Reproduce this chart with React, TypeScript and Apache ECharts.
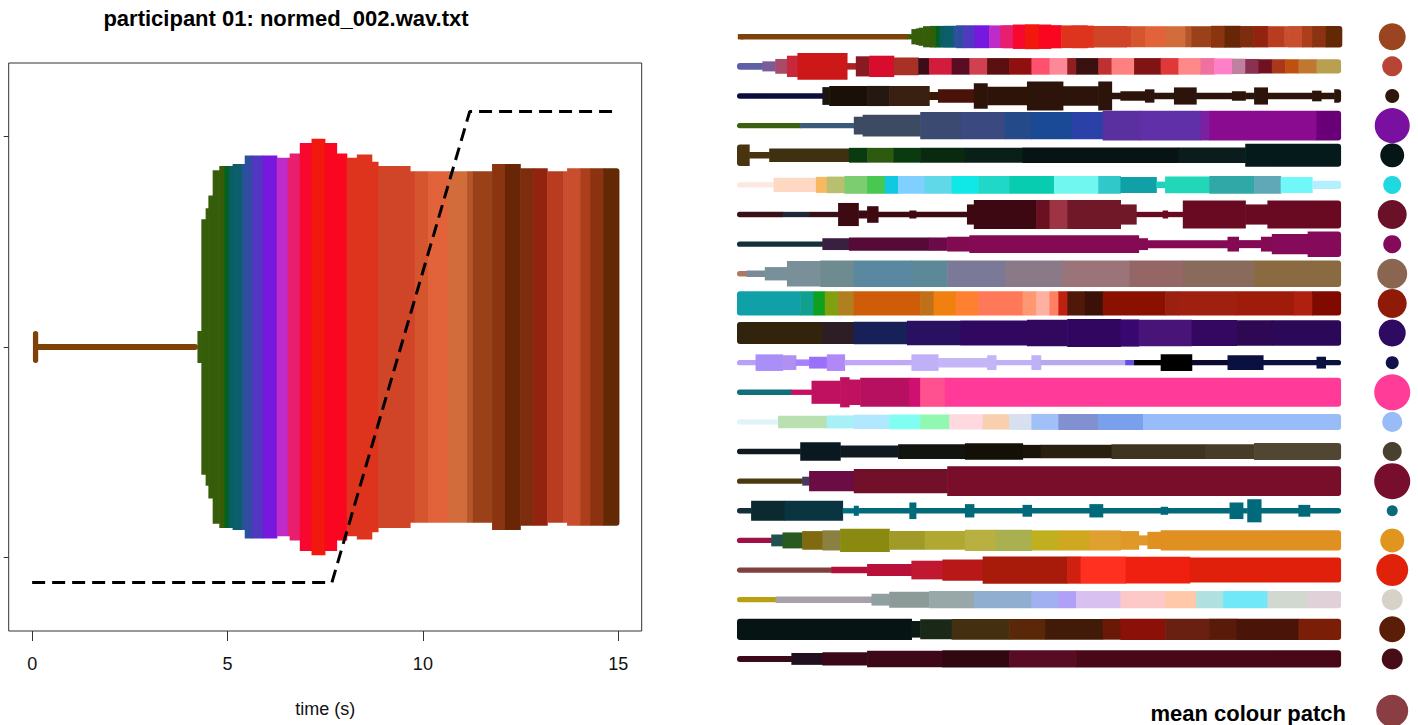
import React, { useEffect, useRef } from "react";
import * as echarts from "echarts";

const TITLE = "participant 01: normed_002.wav.txt";
const X_NAME = "time (s)";
const MEAN_LABEL = "mean colour patch";
const xTickValues = [0, 5, 10, 15];
const yTickValues = [-1, 0, 1];

// slider position (dashed line)
const sliderTimes = [0, 7.67, 11.2, 15];
const sliderValues = [-1.12, -1.12, 1.12, 1.12];

// main trajectory: [start (s), end (s), half height, colour]
const mainSegments: [number, number, number, string][] = [
  [0.05, 4.23, 0.014, "#7E4209"],
  [0.02, 0.14, 0.076, "#7E4209"],
  [4.23, 4.33, 0.076, "#365E0A"],
  [4.33, 4.44, 0.607, "#365E0A"],
  [4.44, 4.51, 0.66, "#365E0A"],
  [4.51, 4.62, 0.72, "#365E0A"],
  [4.62, 4.79, 0.84, "#365E0A"],
  [4.79, 4.92, 0.86, "#365C08"],
  [4.92, 5.03, 0.86, "#00621E"],
  [5.03, 5.13, 0.86, "#0B5E60"],
  [5.13, 5.38, 0.87, "#0C5E6C"],
  [5.38, 5.44, 0.87, "#2E4E9E"],
  [5.44, 5.62, 0.91, "#2E4EA0"],
  [5.62, 5.9, 0.91, "#5038C0"],
  [5.9, 6.26, 0.91, "#7718DE"],
  [6.26, 6.54, 0.9, "#BE2BC8"],
  [6.54, 6.59, 0.9, "#E81E6E"],
  [6.59, 6.85, 0.92, "#E81E6E"],
  [6.85, 7.15, 0.97, "#F8082E"],
  [7.15, 7.49, 0.99, "#F2180E"],
  [7.49, 7.79, 0.97, "#FA0620"],
  [7.79, 8.05, 0.92, "#FA0620"],
  [8.05, 8.31, 0.9, "#DE341E"],
  [8.31, 8.69, 0.915, "#DE341E"],
  [8.69, 8.85, 0.88, "#DE341E"],
  [8.85, 9.67, 0.86, "#D04428"],
  [9.67, 9.79, 0.835, "#D04428"],
  [9.79, 10.13, 0.835, "#D5552F"],
  [10.13, 10.64, 0.835, "#E2633A"],
  [10.64, 11.13, 0.835, "#D26C3A"],
  [11.13, 11.28, 0.835, "#B4552A"],
  [11.28, 11.77, 0.835, "#9A4119"],
  [11.77, 12.1, 0.87, "#8B3510"],
  [12.1, 12.49, 0.87, "#682606"],
  [12.49, 12.82, 0.85, "#7E2C0E"],
  [12.82, 13.18, 0.85, "#91230F"],
  [13.18, 13.59, 0.835, "#B83C1F"],
  [13.59, 13.69, 0.835, "#C84E2D"],
  [13.69, 14.03, 0.85, "#C84E2D"],
  [14.03, 14.28, 0.85, "#AD3E1C"],
  [14.28, 14.62, 0.85, "#8B3210"],
  [14.62, 15.03, 0.85, "#622904"],
];

// overview rows 2..22: [end time (s), half thickness (row units), colour]
type Seg = [number, number, string];

const row02: Seg[] = [
  [0.63, 0.11, "#5F5FA8"], [0.95, 0.17, "#7C5C98"], [1.24, 0.25, "#A84A6A"], [1.5, 0.36, "#C8283A"],
  [2.73, 0.45, "#CC1818"], [2.95, 0.11, "#B02020"], [3.28, 0.34, "#8A1A22"], [3.89, 0.36, "#D80C2C"],
  [4.5, 0.3, "#A83024"], [4.77, 0.28, "#3E0C18"], [5.33, 0.28, "#D21C3C"], [5.77, 0.28, "#5A0C22"],
  [6.21, 0.28, "#D04050"], [6.76, 0.28, "#5A1010"], [7.31, 0.28, "#901010"], [7.76, 0.28, "#FF5070"],
  [8.2, 0.28, "#FF8898"], [8.42, 0.28, "#902020"], [8.97, 0.28, "#3A1010"], [9.3, 0.28, "#C03030"],
  [9.86, 0.28, "#FF8080"], [10.52, 0.28, "#801414"], [10.96, 0.28, "#E03838"], [11.51, 0.28, "#FF8888"],
  [11.85, 0.28, "#F070A0"], [12.29, 0.27, "#FF80C8"], [12.62, 0.26, "#C080A0"], [12.95, 0.25, "#8A3050"],
  [13.28, 0.24, "#701020"], [13.61, 0.24, "#A83818"], [13.94, 0.24, "#C05010"], [14.39, 0.24, "#C07830"],
  [15.0, 0.24, "#B8A050"],
];
const row03: Seg[] = [
  [2.12, 0.09, "#0C0C40"], [2.29, 0.3, "#1C1410"], [3.23, 0.34, "#1A1008"], [3.78, 0.34, "#241810"],
  [4.77, 0.34, "#3A2010"], [4.99, 0.135, "#3A1808"], [5.88, 0.225, "#4A1208"], [6.21, 0.43, "#2E1408"],
  [7.2, 0.315, "#2E1408"], [8.09, 0.49, "#2C140A"], [8.97, 0.33, "#2C140A"], [9.3, 0.49, "#2C140A"],
  [9.52, 0.11, "#2C140A"], [10.13, 0.16, "#2C140A"], [10.35, 0.225, "#2C140A"], [10.85, 0.11, "#2C140A"],
  [11.4, 0.29, "#2C140A"], [12.29, 0.11, "#2C140A"], [12.62, 0.16, "#2C140A"], [12.84, 0.11, "#2C140A"],
  [13.17, 0.29, "#2C140A"], [14.28, 0.11, "#2C140A"], [14.5, 0.18, "#2C140A"], [14.83, 0.11, "#2C140A"],
  [15.0, 0.225, "#2C140A"],
];
const row04: Seg[] = [
  [1.57, 0.09, "#3A6010"], [2.9, 0.09, "#3A5A7A"], [3.12, 0.3, "#3C4A62"], [4.55, 0.37, "#3C4A62"],
  [5.55, 0.46, "#3A4A70"], [6.65, 0.46, "#3A4A80"], [7.31, 0.46, "#254A8A"], [8.31, 0.46, "#1A4A95"],
  [9.08, 0.46, "#2A42A8"], [10.0, 0.5, "#5A30A0"], [11.51, 0.5, "#6030A8"], [11.73, 0.5, "#7A20A0"],
  [14.39, 0.5, "#8A0A90"], [15.0, 0.5, "#6A0078"],
];
const row05: Seg[] = [
  [0.3, 0.36, "#4A3410"], [0.8, 0.11, "#4A3410"], [2.78, 0.225, "#3E3010"], [3.23, 0.25, "#0A3A10"],
  [3.89, 0.25, "#2E5A10"], [4.55, 0.25, "#0A3A10"], [5.66, 0.25, "#0A2A10"], [7.09, 0.25, "#082018"],
  [10.96, 0.26, "#081414"], [12.62, 0.26, "#0A1C1C"], [15.0, 0.39, "#051A1A"],
];
const row06: Seg[] = [
  [0.91, 0.09, "#FCE8E0"], [1.96, 0.24, "#FFD8C4"], [2.23, 0.27, "#F8B860"], [2.67, 0.28, "#B8C070"],
  [3.23, 0.3, "#7CCC70"], [3.67, 0.3, "#48C850"], [4.0, 0.3, "#10C8E0"], [4.66, 0.3, "#80D0FF"],
  [5.33, 0.3, "#60D8E8"], [5.99, 0.3, "#10E8E8"], [6.76, 0.3, "#20D8C8"], [7.87, 0.3, "#08CCB0"],
  [8.97, 0.3, "#70F8F0"], [9.52, 0.3, "#30C8C8"], [10.41, 0.27, "#10A0A8"], [10.63, 0.11, "#20D0C0"],
  [11.73, 0.28, "#20D8B8"], [12.84, 0.3, "#30A8A8"], [13.5, 0.3, "#60A8B8"], [14.28, 0.27, "#70F8F8"],
  [15.0, 0.14, "#B0F0FF"],
];
const row07: Seg[] = [
  [1.13, 0.09, "#3A1018"], [1.79, 0.09, "#1E2838"], [2.51, 0.09, "#3A1018"], [3.01, 0.39, "#3E0A12"],
  [3.23, 0.135, "#3E0A12"], [3.5, 0.28, "#3E0A12"], [4.28, 0.09, "#3E0A12"], [4.44, 0.135, "#3E0A12"],
  [5.71, 0.09, "#3E0A12"], [5.88, 0.34, "#3E0812"], [7.43, 0.49, "#3E0812"], [7.76, 0.49, "#6A1020"],
  [8.2, 0.49, "#9C3444"], [9.52, 0.49, "#701828"], [9.91, 0.34, "#701828"], [10.57, 0.09, "#6A0A22"],
  [10.69, 0.135, "#6A0A22"], [11.07, 0.09, "#6A0A22"], [12.62, 0.47, "#6A0A22"], [13.17, 0.34, "#6A0A22"],
  [15.0, 0.47, "#6A0A22"],
];
const row08: Seg[] = [
  [2.12, 0.09, "#143038"], [2.78, 0.2, "#3A2040"], [4.77, 0.225, "#560A38"], [5.22, 0.225, "#6A0A48"],
  [5.77, 0.25, "#820A50"], [9.97, 0.3, "#840A54"], [10.19, 0.2, "#840A54"], [12.18, 0.135, "#840A54"],
  [12.45, 0.25, "#840A54"], [13.01, 0.135, "#840A54"], [13.28, 0.25, "#840A54"], [14.17, 0.34, "#860A5A"],
  [15.0, 0.43, "#860A5A"],
];
const row09: Seg[] = [
  [0.24, 0.09, "#B07860"], [0.69, 0.11, "#7A8A98"], [1.24, 0.225, "#78909A"], [2.07, 0.43, "#7A9098"],
  [2.9, 0.45, "#6E8C90"], [4.33, 0.45, "#5A88A0"], [5.22, 0.45, "#5C8898"], [6.65, 0.45, "#7A7A98"],
  [8.09, 0.45, "#8A7A88"], [9.75, 0.45, "#9A7478"], [11.07, 0.45, "#946666"], [12.84, 0.45, "#8A6A5A"],
  [15.0, 0.45, "#8A6A40"],
];
const row10: Seg[] = [
  [1.57, 0.41, "#10A0A8"], [1.9, 0.41, "#10A090"], [2.18, 0.41, "#10A020"], [2.51, 0.41, "#80A010"],
  [2.9, 0.41, "#B08020"], [4.55, 0.41, "#CE5C08"], [4.88, 0.41, "#C07018"], [5.44, 0.41, "#F08010"],
  [5.99, 0.41, "#FF8030"], [7.09, 0.41, "#FF7858"], [7.43, 0.41, "#FF9870"], [7.76, 0.41, "#FFB0A0"],
  [7.98, 0.41, "#FF8060"], [8.2, 0.41, "#C02010"], [8.64, 0.41, "#501808"], [9.08, 0.41, "#3A1008"],
  [10.63, 0.41, "#8A1000"], [10.96, 0.41, "#9A2010"], [12.4, 0.41, "#A02010"], [13.83, 0.41, "#A01C0A"],
  [14.28, 0.41, "#B02010"], [15.0, 0.41, "#800A00"],
];
const row11: Seg[] = [
  [2.12, 0.37, "#32240C"], [2.9, 0.37, "#2C1E24"], [4.22, 0.38, "#182058"], [5.55, 0.41, "#2A1060"],
  [7.2, 0.42, "#300860"], [8.2, 0.45, "#32085E"], [9.52, 0.47, "#300660"], [9.97, 0.46, "#380870"],
  [11.29, 0.45, "#481478"], [12.4, 0.44, "#340860"], [13.28, 0.43, "#2E0852"], [15.0, 0.43, "#2C0858"],
];
const row12: Seg[] = [
  [0.46, 0.09, "#B8A0F8"], [1.13, 0.28, "#A890F8"], [1.46, 0.25, "#B090F0"], [1.79, 0.11, "#A880FF"],
  [2.23, 0.2, "#9A70F8"], [2.67, 0.28, "#B088F8"], [4.33, 0.09, "#C0A8F8"], [4.99, 0.28, "#C0B0F8"],
  [6.21, 0.16, "#C4B4F8"], [6.43, 0.25, "#C4B4F8"], [7.31, 0.09, "#C0B0F8"], [7.54, 0.25, "#C0B0F8"],
  [9.64, 0.09, "#B8A8F0"], [9.86, 0.09, "#6050E0"], [10.52, 0.09, "#000000"], [11.29, 0.28, "#000000"],
  [12.18, 0.09, "#0A0A30"], [13.06, 0.25, "#0A1040"], [14.39, 0.09, "#0A1040"], [14.61, 0.2, "#0A1040"],
  [15.0, 0.09, "#0A1040"],
];
const row13: Seg[] = [
  [1.35, 0.09, "#10707A"], [1.85, 0.09, "#C81060"], [2.56, 0.39, "#C01060"], [2.78, 0.51, "#C01060"],
  [3.06, 0.43, "#C01060"], [4.28, 0.49, "#B81060"], [4.55, 0.49, "#D01070"], [5.16, 0.49, "#FF5090"],
  [15.0, 0.49, "#FF3A98"],
];
const row14: Seg[] = [
  [1.02, 0.09, "#E0F4F8"], [2.23, 0.21, "#B8E0B0"], [2.9, 0.22, "#A8F0F8"], [3.78, 0.24, "#B0E8FF"],
  [4.55, 0.25, "#80FFF0"], [5.27, 0.25, "#90F8B0"], [6.1, 0.26, "#FFD8E0"], [6.76, 0.26, "#F8D0B0"],
  [7.31, 0.27, "#D8E0F0"], [7.98, 0.27, "#A0C0F8"], [8.97, 0.27, "#8090D0"], [10.08, 0.27, "#7AA0EC"],
  [15.0, 0.27, "#98BCF8"],
];
const row15: Seg[] = [
  [1.57, 0.09, "#101820"], [2.56, 0.315, "#0A1820"], [4.0, 0.2, "#101820"], [5.66, 0.25, "#121410"],
  [7.09, 0.28, "#141008"], [7.54, 0.225, "#1A1408"], [9.3, 0.225, "#2A2010"], [11.62, 0.25, "#3E3420"],
  [12.84, 0.25, "#463C28"], [15.0, 0.29, "#504632"],
];
const row16: Seg[] = [
  [1.62, 0.09, "#4A3A10"], [1.79, 0.15, "#4A3860"], [2.9, 0.34, "#6C0C44"], [5.22, 0.41, "#72102A"],
  [15.0, 0.5, "#780E2A"],
];
const row17: Seg[] = [
  [0.35, 0.09, "#10303A"], [1.18, 0.34, "#0A2A30"], [2.62, 0.34, "#0A3440"], [2.9, 0.09, "#007080"],
  [3.01, 0.17, "#006A7A"], [4.28, 0.09, "#006A7A"], [4.44, 0.28, "#006A7A"], [5.66, 0.09, "#006A7A"],
  [5.88, 0.225, "#006A7A"], [7.09, 0.09, "#006A7A"], [7.31, 0.2, "#006A7A"], [8.75, 0.09, "#006A7A"],
  [9.08, 0.225, "#006A7A"], [10.52, 0.09, "#006A7A"], [10.69, 0.135, "#006A7A"], [12.23, 0.09, "#006A7A"],
  [12.56, 0.28, "#006A7A"], [12.67, 0.09, "#006A7A"], [13.01, 0.39, "#006A7A"], [13.94, 0.09, "#006A7A"],
  [14.22, 0.2, "#006A7A"], [15.0, 0.09, "#006A7A"],
];
const row18: Seg[] = [
  [0.85, 0.09, "#A01048"], [1.13, 0.2, "#205050"], [1.62, 0.27, "#2A5A20"], [2.12, 0.315, "#806A10"],
  [2.56, 0.34, "#8A8040"], [3.78, 0.39, "#8A8A10"], [4.66, 0.315, "#A09A28"], [5.66, 0.315, "#B0A830"],
  [6.43, 0.36, "#B8B040"], [7.31, 0.36, "#A8B050"], [7.98, 0.34, "#C0B020"], [8.75, 0.34, "#D0A820"],
  [9.52, 0.34, "#E0A030"], [9.97, 0.315, "#E09828"], [10.19, 0.17, "#E09828"], [10.52, 0.29, "#E09020"],
  [15.0, 0.34, "#E09020"],
];
const row19: Seg[] = [
  [2.34, 0.09, "#804040"], [3.23, 0.11, "#B0103A"], [4.33, 0.2, "#B81038"], [5.1, 0.315, "#C01830"],
  [6.1, 0.36, "#B81818"], [8.2, 0.46, "#A81A0A"], [8.53, 0.46, "#D02010"], [9.64, 0.46, "#FF3020"],
  [11.24, 0.45, "#F02010"], [15.0, 0.42, "#E0200A"],
];
const row20: Seg[] = [
  [0.96, 0.09, "#B8A010"], [3.34, 0.11, "#A8A0A8"], [3.78, 0.2, "#90A0A0"], [4.77, 0.27, "#8C9A98"],
  [5.88, 0.29, "#98A8A8"], [7.31, 0.29, "#90AED0"], [7.98, 0.29, "#A0B0F0"], [8.42, 0.29, "#B0A0F8"],
  [9.52, 0.29, "#D8C0F0"], [10.63, 0.29, "#FCC8C8"], [11.4, 0.29, "#FFC8A8"], [12.07, 0.29, "#B0E0E0"],
  [13.17, 0.29, "#70E8F8"], [14.17, 0.29, "#D0D8D0"], [15.0, 0.29, "#E0D0D8"],
];
const row21: Seg[] = [
  [4.33, 0.36, "#061414"], [4.55, 0.28, "#0A1A14"], [5.33, 0.34, "#1A2818"], [6.76, 0.35, "#443010"],
  [7.65, 0.35, "#5A2808"], [9.08, 0.35, "#421A08"], [9.52, 0.35, "#6A1808"], [10.63, 0.36, "#8A1008"],
  [11.73, 0.36, "#6A2010"], [12.4, 0.36, "#5A1A0A"], [13.94, 0.36, "#4A1408"], [15.0, 0.36, "#7A1E08"],
];
const row22: Seg[] = [
  [1.35, 0.1, "#3A0A18"], [2.12, 0.2, "#201020"], [3.23, 0.225, "#3A0818"], [5.1, 0.28, "#3E0818"],
  [6.76, 0.29, "#300810"], [8.42, 0.29, "#580C24"], [15.0, 0.29, "#480818"],
];

const overviewRows: Seg[][] = [
  row02, row03, row04, row05, row06, row07, row08, row09, row10, row11, row12,
  row13, row14, row15, row16, row17, row18, row19, row20, row21, row22,
];

// mean colour patches, one per row
const patchColors = [
  "#9A4420", "#B84436", "#2E180C", "#7A10A0", "#061616", "#20D8E0", "#6A1028", "#840A5A",
  "#8A6650", "#901A08", "#2E0A60", "#10104A", "#FF3C98", "#98BCF8", "#4A4030", "#780E2E",
  "#0A6A7A", "#E0961E", "#E0220A", "#D6D2C8", "#5A1E08", "#480C18",
];
const patchSizes = [27, 20, 14, 35, 24, 18, 29, 18, 30, 29, 27, 13, 36, 20, 19, 36, 11, 24, 32, 21, 26, 21];
const meanPatchColor = "#8A3E44";
const meanPatchSize = 32;

// layout constants
const ROW1_SCALE = 0.425;
const MIN_HALF = 0.09;
const PATCH_X = 16.27;
const MEAN_ROW = 22.75;
const FONT = "'Liberation Sans', Arial, Helvetica, sans-serif";

interface Piece {
  t0: number; t1: number; row: number; half: number; color: string; rl: boolean; rr: boolean;
}

const pieces: Piece[] = [];
mainSegments.forEach((s, i) => {
  pieces.push({
    t0: s[0], t1: s[1], row: 0, half: Math.max(s[2] * ROW1_SCALE, MIN_HALF), color: s[3],
    rl: i === 0, rr: i === mainSegments.length - 1,
  });
});
overviewRows.forEach((segs, k) => {
  let start = 0;
  segs.forEach((s, i) => {
    pieces.push({ t0: start, t1: s[0], row: k + 1, half: s[1], color: s[2], rl: i === 0, rr: i === segs.length - 1 });
    start = s[0];
  });
});

export default function App() {
  const ref = useRef<HTMLDivElement>(null);
  useEffect(() => {
    if (!ref.current) return;
    const chart = echarts.init(ref.current, undefined, { renderer: "svg" });
    const option: any = {
      animation: false,
      backgroundColor: "#ffffff",
      textStyle: { fontFamily: FONT },
      grid: [
        { left: 8.7, top: 63, width: 633, height: 568, show: true, borderColor: "#333", borderWidth: 1, backgroundColor: "transparent" },
        { left: 737, top: 0, width: 681, height: 725, show: false },
      ],
      xAxis: [
        {
          type: "value", gridIndex: 0, min: -0.6, max: 15.6, position: "bottom",
          axisLine: { show: false, onZero: false }, splitLine: { show: false },
          axisTick: { show: true, customValues: xTickValues, length: 10, lineStyle: { color: "#333", width: 1 } },
          axisLabel: { show: true, customValues: xTickValues, margin: 24, fontSize: 18, color: "#111", fontFamily: FONT },
          name: X_NAME, nameLocation: "middle", nameGap: 69,
          nameTextStyle: { fontSize: 18, color: "#111", fontFamily: FONT },
        },
        { type: "value", gridIndex: 1, min: 0, max: 16.91, show: false },
      ],
      yAxis: [
        {
          type: "value", gridIndex: 0, min: -1.35, max: 1.35, position: "left",
          axisLine: { show: false, onZero: false }, splitLine: { show: false },
          axisTick: { show: true, customValues: yTickValues, length: 5, lineStyle: { color: "#333", width: 1 } },
          axisLabel: { show: false },
        },
        { type: "value", gridIndex: 1, min: -1.24, max: 23.23, inverse: true, show: false },
      ],
      series: [
        {
          type: "custom", xAxisIndex: 0, yAxisIndex: 0, silent: true, z: 2,
          data: mainSegments.map((s) => [s[0], 0]),
          renderItem: (params: any, api: any) => {
            const s = mainSegments[params.dataIndex];
            const a = api.coord([s[0], -s[2]]);
            const b = api.coord([s[1], s[2]]);
            const x = Math.min(a[0], b[0]);
            const y = Math.min(a[1], b[1]);
            const w = Math.abs(b[0] - a[0]);
            const h = Math.abs(b[1] - a[1]);
            const last = params.dataIndex === mainSegments.length - 1;
            const r = params.dataIndex <= 1 ? Math.min(3, h / 2) : last ? [0, 3, 3, 0] : 0;
            return {
              type: "rect",
              shape: { x, y, width: w + (last ? 0 : 0.6), height: h, r },
              style: { fill: s[3] },
            };
          },
        },
        {
          type: "line", xAxisIndex: 0, yAxisIndex: 0, silent: true, z: 5,
          symbol: "none",
          data: sliderTimes.map((t, i) => [t, sliderValues[i]]),
          lineStyle: { color: "#000", width: 3, type: [13, 7] },
        },
        {
          type: "custom", xAxisIndex: 1, yAxisIndex: 1, silent: true, z: 2,
          data: pieces.map((p) => [p.t0, p.row]),
          renderItem: (params: any, api: any) => {
            const p = pieces[params.dataIndex];
            const a = api.coord([p.t0, p.row - p.half]);
            const b = api.coord([p.t1, p.row + p.half]);
            const x = Math.min(a[0], b[0]);
            const y = Math.min(a[1], b[1]);
            const w = Math.abs(b[0] - a[0]);
            const h = Math.abs(b[1] - a[1]);
            const rad = Math.min(3, h / 2);
            return {
              type: "rect",
              shape: {
                x, y, width: w + (p.rr ? 0 : 0.6), height: h,
                r: [p.rl ? rad : 0, p.rr ? rad : 0, p.rr ? rad : 0, p.rl ? rad : 0],
              },
              style: { fill: p.color },
            };
          },
        },
        {
          type: "scatter", xAxisIndex: 1, yAxisIndex: 1, silent: true, z: 3,
          symbol: "circle",
          itemStyle: { opacity: 1 },
          data: [
            ...patchColors.map((c, i) => ({ value: [PATCH_X, i], symbolSize: patchSizes[i], itemStyle: { color: c, opacity: 1 } })),
            { value: [PATCH_X, MEAN_ROW], symbolSize: meanPatchSize, itemStyle: { color: meanPatchColor, opacity: 1 } },
          ],
        },
      ],
      graphic: [
        {
          type: "text", silent: true,
          x: 286, y: 18,
          style: {
            text: TITLE, x: 0, y: 0, textAlign: "center", textVerticalAlign: "middle",
            fontSize: 22, fontWeight: "bold", fontFamily: FONT, fill: "#000",
          },
        },
        {
          type: "text", silent: true,
          x: 1346, y: 713,
          style: {
            text: MEAN_LABEL, x: 0, y: 0, textAlign: "right", textVerticalAlign: "middle",
            fontSize: 22, fontWeight: "bold", fontFamily: FONT, fill: "#000",
          },
        },
      ],
    };
    chart.setOption(option);
    return () => chart.dispose();
  }, []);
  return (
    <div
      ref={ref}
      style={{ position: "fixed", left: 0, top: 0, width: 1418, height: 725, background: "#fff" }}
    />
  );
}
